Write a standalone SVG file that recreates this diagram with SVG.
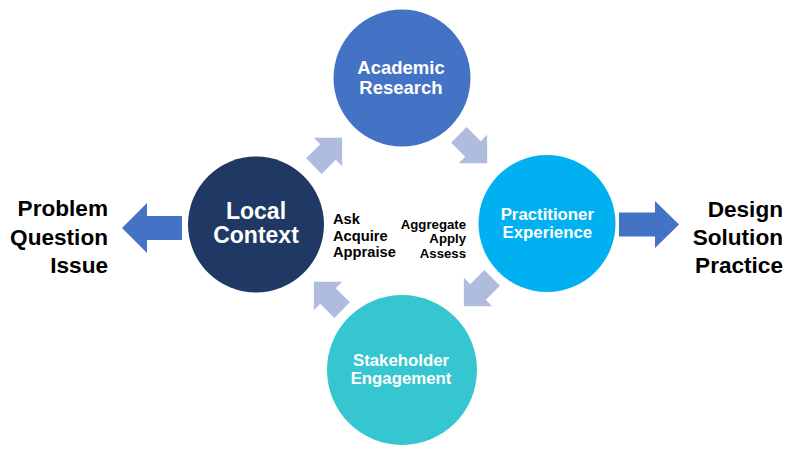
<svg xmlns="http://www.w3.org/2000/svg" width="800" height="450" viewBox="0 0 800 450">
<defs>
<style>
text{font-family:"Liberation Sans",Arial,sans-serif;font-weight:bold;}
.w{fill:#FFFFFF;text-anchor:middle;}
.k{fill:#000000;}
.sm{fill:#B0BCDE;}
.big{fill:#4472C4;}
</style>
<path id="sa" d="M-20,-11 H0 V-20 L20,0 L0,20 V11 H-20 Z"/>
</defs>
<rect width="800" height="450" fill="#FFFFFF"/>
<g id="connectors">
<use href="#sa" class="sm" transform="translate(328,152) rotate(-45)"/>
<use href="#sa" class="sm" transform="translate(473,149) rotate(45)"/>
<use href="#sa" class="sm" transform="translate(478,292) rotate(135)"/>
<use href="#sa" class="sm" transform="translate(328,296) rotate(-135)"/>
<polygon class="big" points="182,216 147,216 147,203 122,228 147,253 147,240 182,240"/>
<polygon class="big" points="619,212.5 655,212.5 655,201 679,224.5 655,248 655,236.5 619,236.5"/>
</g>
<g id="academic-research">
<circle cx="402" cy="78" r="68.5" fill="#4472C4"/>
<text class="w" x="401" y="74" font-size="18.5">Academic</text>
<text class="w" x="401" y="94" font-size="18.5">Research</text>
</g>
<g id="practitioner-experience">
<circle cx="547" cy="223.5" r="68.5" fill="#00B0F0"/>
<text class="w" x="547.3" y="220" font-size="16.8">Practitioner</text>
<text class="w" x="547.3" y="237.5" font-size="16.8">Experience</text>
</g>
<g id="stakeholder-engagement">
<circle cx="402" cy="370" r="75" fill="#36C6D2"/>
<text class="w" x="401" y="366" font-size="16.8">Stakeholder</text>
<text class="w" x="401" y="383.5" font-size="16.8">Engagement</text>
</g>
<g id="local-context">
<circle cx="256" cy="224.5" r="68" fill="#203864"/>
<text class="w" x="256" y="219" font-size="23">Local</text>
<text class="w" x="256" y="243" font-size="23">Context</text>
</g>
<g id="ask-labels">
<text class="k" x="333" y="224" font-size="14.7">Ask</text>
<text class="k" x="333" y="240.5" font-size="14.7">Acquire</text>
<text class="k" x="333" y="257" font-size="14.7">Appraise</text>
</g>
<g id="aggregate-labels" text-anchor="end">
<text class="k" x="466" y="228.5" font-size="13.2">Aggregate</text>
<text class="k" x="466" y="243" font-size="13.2">Apply</text>
<text class="k" x="466" y="257.5" font-size="13.2">Assess</text>
</g>
<g id="problem" text-anchor="end">
<text class="k" x="108" y="216" font-size="22.6">Problem</text>
<text class="k" x="108" y="244.5" font-size="22.6">Question</text>
<text class="k" x="108" y="273" font-size="22.6">Issue</text>
</g>
<g id="design" text-anchor="end">
<text class="k" x="783" y="217" font-size="22.6">Design</text>
<text class="k" x="783" y="245" font-size="22.6">Solution</text>
<text class="k" x="783" y="273" font-size="22.6">Practice</text>
</g>
</svg>
